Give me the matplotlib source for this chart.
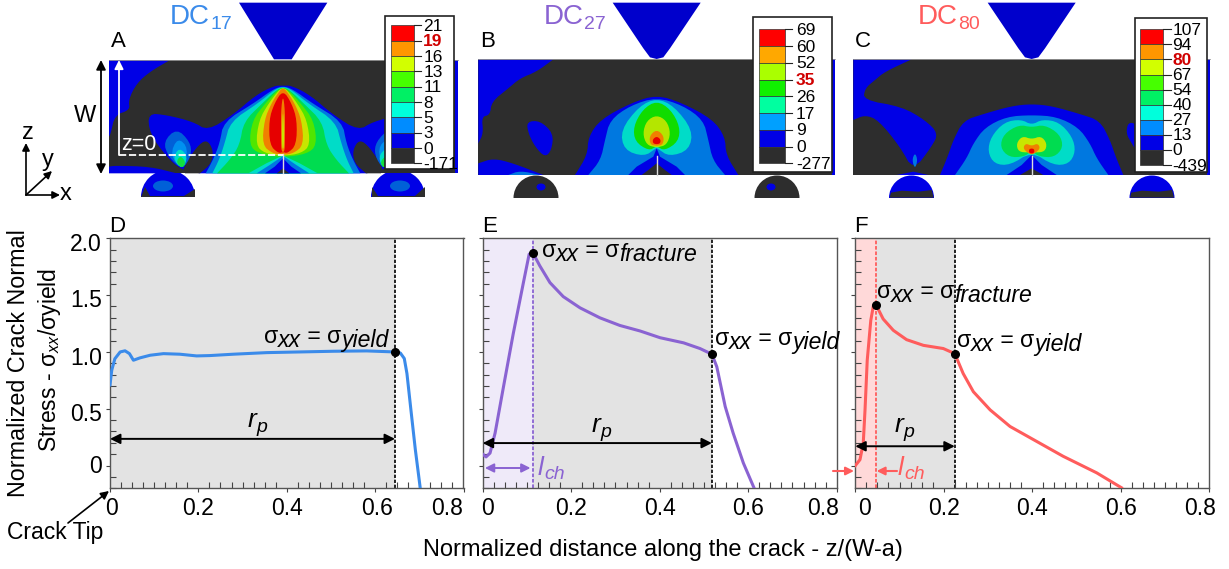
import numpy as np
import matplotlib
matplotlib.use('Agg')
import matplotlib.pyplot as plt
from matplotlib.patches import Polygon, Rectangle, Wedge, Ellipse
from matplotlib.ticker import MultipleLocator
from matplotlib.transforms import ScaledTranslation

plt.rcParams['font.family'] = ['Liberation Sans', 'DejaVu Sans']
plt.rcParams['mathtext.fontset'] = 'custom'
plt.rcParams['mathtext.rm'] = 'Liberation Sans'
plt.rcParams['mathtext.it'] = 'Liberation Sans:italic'

# curves
d_x = [0, .004, .011, .023, .034, .044, .053, .068, .091, .121, .158, .196, .226, .279, .355, .43, .506, .581, .644, .657, .666, .672, .681, .691, .702]
d_y = [.71, .84, .94, 1.0, 1.01, .985, .927, .948, .971, .985, .98, .965, .968, .98, .994, 1.0, 1.006, 1.009, 1.0, .991, .942, .81, .49, .14, -.195]
e_x = [.0015, .0075, .0166, .028, .047, .069, .092, .105, .113, .129, .152, .182, .22, .265, .31, .356, .401, .454, .491, .518, .529, .548, .566, .589, .613]
e_y = [.096, .076, .11, .286, .694, 1.16, 1.61, 1.86, 1.875, 1.758, 1.61, 1.487, 1.388, 1.3, 1.233, 1.184, 1.125, 1.08, 1.03, .98, .87, .52, .286, .023, -.195]
f_x = [0, .0106, .018, .022, .027, .035, .041, .047, .063, .086, .116, .154, .199, .225, .244, .267, .305, .35, .41, .47, .546, .602]
f_y = [0, .052, .198, .49, .927, 1.277, 1.408, 1.414, 1.29, 1.19, 1.108, 1.058, 1.03, .985, .81, .65, .49, .344, .213, .082, -.064, -.195]

rp_values = [.645, .518, .225]
lch_values = [None, .113, .046]
fracture_y = [None, 1.875, 1.414]
yield_y = [1.0, .98, .985]
rp_arrow_y = [.235, .198, .17]

legend_a = ['21', '19', '16', '13', '11', '8', '5', '3', '0', '-171']
legend_b = ['69', '60', '52', '35', '26', '17', '9', '0', '-277']
legend_c = ['107', '94', '80', '67', '54', '40', '27', '13', '0', '-439']
bold_a, bold_b, bold_c = '19', '35', '80'

DARK = '#2d2d2d'
BLUE = '#0000e6'
LBLUE = '#0078e0'
AQUA = '#00dcc8'
GREEN = '#00dc50'
LIME = '#50e600'
YELL = '#c8e600'
ORNG = '#f08000'
RED = '#e60000'
legend_cols = ['#ff0000', '#ff9600', '#d2ff00', '#46ff00', '#00f064', '#00ffdc', '#008cff', BLUE, DARK]
legend_cols_b = ['#ff0000', '#ffa800', '#aaff00', '#10f000', '#00ffa0', '#00a0ff', BLUE, DARK]

BLUE_L = '#3b8bea'
PURP = '#8a63d2'
PINK = '#ff5c5c'

# contour outlines, half profiles (dx from crack, y) in 3x picture pixels
a_lobes = [
    (BLUE, [(0, 257), (26, 257), (81, 285), (151, 345), (226, 392), (270, 365), (350, 345), (405, 340), (400, 400), (350, 470), (304, 510), (250, 520), (0, 520)]),
    (LBLUE, [(0, 258), (30, 268), (88, 310), (178, 365), (190, 430), (210, 480), (232, 520), (0, 520)]),
    (AQUA, [(0, 260), (24, 268), (75, 310), (158, 365), (175, 430), (192, 480), (212, 520), (0, 520)]),
    (GREEN, [(0, 262), (20, 270), (62, 310), (118, 365), (130, 435), (160, 480), (198, 520), (0, 520)]),
    (LIME, [(0, 263), (16, 270), (53, 310), (92, 360), (102, 435), (72, 462), (0, 472)]),
    (YELL, [(0, 264), (12, 270), (43, 310), (72, 360), (82, 435), (55, 460), (0, 468)]),
    (ORNG, [(0, 265), (9, 270), (35, 310), (56, 360), (62, 435), (32, 460), (0, 465)]),
    (RED, [(0, 270), (26, 310), (42, 360), (40, 435), (14, 460), (0, 456)]),
    (ORNG, [(0, 285), (6, 330), (6, 420), (5, 450), (0, 458)]),
    (YELL, [(0, 330), (3, 380), (3, 440), (0, 448)]),
]
a_wedges = [(AQUA, [(0, 466), (50, 490), (104, 520), (0, 520)]), (LBLUE, [(0, 468), (40, 495), (79, 520), (0, 520)]), (BLUE, [(0, 475), (25, 500), (54, 520), (0, 520)]), (DARK, [(0, 505), (19, 520), (0, 520)])]
a_hole = [(620, 418), (640, 450), (635, 490), (600, 520), (555, 520), (548, 505), (590, 440)]
a_drops = [('#0060d8', [(530, 385), (570, 425), (575, 465), (547, 510), (505, 470), (490, 425)]),
           ('#0090f0', [(533, 412), (566, 445), (547, 510), (510, 465)]),
           (AQUA, [(538, 442), (564, 470), (547, 510), (518, 475)]),
           ('#10e040', [(541, 466), (558, 487), (547, 506), (528, 487)])]
a_corner = [(327, 180), (510, 180), (450, 215), (410, 250), (385, 300), (390, 330), (345, 345), (332, 400), (327, 410)]
a_foot = [(327, 500), (345, 497), (450, 500), (530, 520), (327, 520)]

b_lobes = [
    (BLUE, [(0, 285), (75, 308), (168, 358), (205, 410), (208, 465), (245, 525), (0, 525)]),
    (LBLUE, [(0, 292), (78, 316), (140, 360), (155, 420), (168, 480), (205, 525), (0, 525)]),
    (AQUA, [(0, 295), (52, 318), (108, 390), (98, 450), (38, 470), (2, 445), (0, 445)]),
    ('#10dc00', [(0, 302), (42, 328), (70, 380), (65, 425), (24, 452), (2, 440), (0, 440)]),
    ('#b4e600', [(0, 345), (30, 362), (42, 400), (30, 435), (2, 442), (0, 442)]),
    (ORNG, [(0, 388), (22, 408), (19, 434), (2, 437), (0, 437)]),
    (RED, [(0, 409), (12, 418), (11, 430), (0, 433)]),
]
b_wedges = [(BLUE, [(0, 445), (10, 470), (60, 500), (85, 525), (0, 525)]), (DARK, [(0, 490), (25, 510), (45, 525), (0, 525)])]
b_corner = [(25, 178), (250, 178), (200, 215), (150, 235), (115, 265), (65, 305), (60, 345), (35, 350), (40, 400), (25, 430)]
b_blob = [(170, 365), (210, 362), (250, 400), (245, 450), (225, 472), (195, 440), (175, 400)]
b_foot = [(25, 490), (70, 475), (130, 490), (220, 525), (25, 525)]
b_foot2 = [(115, 525), (150, 512), (210, 525)]

c_lobes = [
    (BLUE, [(0, 312), (60, 318), (145, 342), (205, 362), (235, 420), (252, 470), (275, 525), (0, 525)]),
    (LBLUE, [(0, 345), (75, 350), (140, 382), (175, 430), (195, 475), (230, 525), (0, 525)]),
    (AQUA, [(0, 375), (32, 358), (82, 366), (122, 410), (132, 455), (112, 492), (65, 496), (0, 455)]),
    (GREEN, [(0, 382), (38, 374), (84, 402), (95, 442), (68, 472), (22, 470), (0, 452)]),
    (YELL, [(0, 418), (28, 408), (46, 430), (40, 455), (10, 458), (0, 452)]),
    (ORNG, [(0, 438), (18, 430), (26, 445), (10, 460), (0, 464)]),
    (RED, [(0, 445), (8, 448), (8, 458), (0, 461)]),
]
c_wedges = [(BLUE, [(0, 465), (30, 495), (75, 525), (0, 525)]), (DARK, [(0, 505), (35, 525), (0, 525)])]
c_corner = [(25, 178), (200, 178), (120, 215), (90, 240), (60, 265), (55, 300), (170, 320), (240, 360), (280, 400), (260, 440), (205, 512), (165, 440), (100, 360), (60, 345), (25, 360)]
c_foot = [(155, 525), (205, 515), (250, 525)]
c_side = [(850, 365), (880, 375), (885, 470), (860, 430), (843, 400)]
c_drop = [(210, 458), (218, 480), (210, 507), (201, 480)]

# label nudges in pixels
x_nudges = [[2, 0, 0, 2, -16], [5, 0, 0, 0, -14], [9, 0, 0, 0, -9]]
y_nudges = [-2, 3, 4, 3, 4]

fig = plt.figure(figsize=(12.29, 5.69), dpi=100)

over = fig.add_axes([0, 0, 1, 1], zorder=5)
over.set_xlim(0, 1229)
over.set_ylim(569, 0)
over.axis('off')
over.patch.set_alpha(0)
renderer = fig.canvas.get_renderer()


# smooth a closed outline, beam edges stay sharp
def chaikin(pts, left, n=2):
    p = []
    for a, b in pts:
        p.append((a, b))
        if b >= 515 or b <= 180 or a <= left + 1:
            p.append((a, b))
    p = np.array(p, dtype=float)
    for i in range(n):
        q = np.roll(p, -1, axis=0)
        p = np.column_stack([.75 * p + .25 * q, .25 * p + .75 * q]).reshape(-1, 2)
    return p


def poly(pts, off, col, z=2, smooth=True):
    if smooth:
        p = chaikin(pts, 327 if off == 0 else 25)
    else:
        p = np.array(pts, dtype=float)
    p = p / 3
    p[:, 0] += off
    over.add_patch(Polygon(p, closed=True, fc=col, ec='none', zorder=z))


def lobe(half, cx, off, col, z=3, smooth=True):
    right = [(cx + a, b) for a, b in half]
    left = [(cx - a, b) for a, b in half[::-1]][1:-1]
    poly(right + left, off, col, z, smooth)


def run_text(x, y, parts, color='k'):
    # parts: text, size, italic, drop
    for s, size, ital, dy in parts:
        t = over.text(x, y + dy, s, fontsize=size, style='italic' if ital else 'normal',
                      color=color, va='baseline', ha='left', zorder=9)
        x += t.get_window_extent(renderer).width


def legend_box(off, box, cells, labels, cols, bold, lab_x, size=12.5):
    x0, y0, x1, y1 = box
    over.add_patch(Rectangle((off + x0 / 3, y0 / 3), (x1 - x0) / 3, (y1 - y0) / 3, fc='white', ec='#222222', lw=1.2, zorder=6))
    cx0, cy0, cx1, cy1 = cells
    edges = np.linspace(cy0, cy1, len(cols) + 1)
    for i, c in enumerate(cols):
        over.add_patch(Rectangle((off + cx0 / 3, edges[i] / 3), (cx1 - cx0) / 3, (edges[i + 1] - edges[i]) / 3, fc=c, ec='#333333', lw=.5, zorder=7))
    for i, s in enumerate(labels):
        yy = edges[i] / 3
        over.plot([off + cx1 / 3, off + (cx1 + 22) / 3], [yy, yy], color='#222222', lw=.8, zorder=7)
        hot = s == bold
        over.text(off + lab_x / 3, yy + 1, s, fontsize=size, va='center', ha='left', zorder=8,
                  color='#d00000' if hot else 'k', fontweight='bold' if hot else 'normal')


def dome(x, y, r, col):
    over.add_patch(Wedge((x, y), r, 180, 360, fc=col, ec='none', zorder=0))


# FE maps on top
beam_spec = [(0, 327, 1373, 180, 520, 849), (470, 25, 1095, 178, 525, 560), (845, 25, 1095, 178, 525, 560)]
for off, x0, x1, y0, y1, cx in beam_spec:
    over.add_patch(Rectangle((off + x0 / 3, y0 / 3), (x1 - x0) / 3, (y1 - y0) / 3, fc=DARK, ec='none', zorder=1))
    if off == 0:
        ind = [(717, 8), (982, 8), (875, 178), (822, 178)]
    else:
        ind = [(428, 8), (692, 8), (600, 145), (580, 172), (560, 177), (540, 172), (520, 145)]
    poly(ind, off, '#0000cc', 2, False)
    over.plot([off + cx / 3] * 2, [(y1 - 58) / 3, y1 / 3], color='#dddddd', lw=1, zorder=6)
    over.plot([off + x0 / 3, off + x1 / 3], [y0 / 3] * 2, color='#999999', lw=.6, zorder=5)

for col, pts in a_lobes:
    lobe(pts, 849, 0, col, 3 if col != BLUE else 2)
for col, pts in a_wedges:
    lobe(pts, 849, 0, col, 4, False)
poly(a_corner, 0, BLUE)
poly(a_foot, 0, BLUE)
poly(a_hole, 0, DARK, 4)
poly([(2 * 849 - a, b) for a, b in a_hole], 0, DARK, 4)
for col, pts in a_drops:
    poly(pts, 0, col, 5)
    poly([(2 * 849 - a, b) for a, b in pts], 0, col, 5)
over.add_patch(Rectangle((1365 / 3, 60), 8 / 3, 113, fc=BLUE, ec='none', zorder=2))

for col, pts in b_lobes:
    lobe(pts, 560, 470, col, 3 if col != BLUE else 2)
for col, pts in b_wedges:
    lobe(pts, 560, 470, col, 4, False)
for pts, col in [(b_corner, BLUE), (b_blob, BLUE), (b_foot, BLUE), (b_foot2, LBLUE)]:
    poly(pts, 470, col)
over.add_patch(Rectangle((470 + 1087 / 3, 59), 8 / 3, 116, fc=BLUE, ec='none', zorder=2))

for col, pts in c_lobes:
    lobe(pts, 560, 845, col, 3 if col != BLUE else 2)
for col, pts in c_wedges:
    lobe(pts, 560, 845, col, 4, False)
for pts, col in [(c_corner, BLUE), (c_foot, BLUE), (c_side, BLUE), (c_drop, LBLUE)]:
    poly(pts, 845, col)
over.add_patch(Rectangle((845 + 1087 / 3, 59), 8 / 3, 116, fc=BLUE, ec='none', zorder=2))

# rollers under the beam
dome(168, 197, 27, BLUE)
dome(398, 197, 27, BLUE)
over.add_patch(Polygon([(141, 197), (195, 197), (195, 189), (184, 196), (150, 196), (145, 187)], fc=DARK, zorder=3))
over.add_patch(Polygon([(372, 187), (378, 196), (415, 196), (425, 187), (425, 197), (372, 197)], fc=DARK, zorder=3))
for x in [163, 400]:
    over.add_patch(Ellipse((x, 186), 20, 11, fc='#0060d8', ec='none', zorder=3))
dome(536, 198, 22.5, DARK)
dome(777, 198, 22.5, DARK)
over.add_patch(Ellipse((541, 187), 9, 7, fc=BLUE, ec='none', zorder=3))
over.add_patch(Ellipse((771, 187), 9, 7, fc=BLUE, ec='none', zorder=3))
dome(911.5, 198, 22.5, BLUE)
dome(1152, 198, 22.5, BLUE)
for cx in [200, 921]:
    poly([(cx - 62, 578), (cx - 30, 572), (cx + 20, 575), (cx + 60, 570), (cx + 66, 593), (cx - 66, 593)], 845, DARK, 3, False)

legend_box(0, (1155, 47, 1363, 508), (1173, 76, 1242, 490), legend_a, legend_cols, bold_a, 1270)
legend_box(470, (848, 52, 1085, 515), (868, 88, 944, 490), legend_b, legend_cols_b, bold_b, 978)
legend_box(845, (870, 53, 1087, 515), (886, 88, 955, 495), legend_c, legend_cols, bold_c, 982)

# titles and letters
run_text(170, 24, [('DC', 20, False, 0), ('17', 14, False, 5)], BLUE_L)
run_text(544, 24, [('DC', 20, False, 0), ('27', 14, False, 5)], PURP)
run_text(918, 24, [('DC', 20, False, 0), ('80', 14, False, 5)], PINK)
for s, x, y in [('A', 111, 47), ('B', 480, 47), ('C', 855, 47), ('D', 109, 232), ('E', 482, 232), ('F', 854, 232)]:
    over.text(x, y, s, fontsize=16, va='baseline', zorder=9)

# axes triad, W and z=0 marks
arr = dict(arrowstyle='-|>', color='k', lw=1.2, mutation_scale=11, shrinkA=0, shrinkB=0)
over.annotate('', xy=(26, 143), xytext=(26, 195), arrowprops=arr, zorder=9)
over.annotate('', xy=(60, 195), xytext=(26, 195), arrowprops=arr, zorder=9)
over.annotate('', xy=(52, 171), xytext=(26, 195), arrowprops=arr, zorder=9)
over.text(28, 133, 'z', fontsize=17, ha='center', va='center')
over.text(48, 160, 'y', fontsize=17, ha='center', va='center')
over.text(66, 194, 'x', fontsize=17, ha='center', va='center')
over.annotate('', xy=(101, 60), xytext=(101, 174), arrowprops=dict(arrowstyle='<|-|>', color='k', lw=1.3, mutation_scale=14, shrinkA=0, shrinkB=0))
over.text(85, 116, 'W', fontsize=17, ha='center', va='center')
over.annotate('', xy=(119, 60), xytext=(119, 155), arrowprops=dict(arrowstyle='-|>', color='white', lw=1.3, mutation_scale=13, shrinkA=0, shrinkB=0), zorder=9)
over.plot([119, 283], [155, 155], color='white', lw=1.3, ls=(0, (4, 1.5)), zorder=9)
over.text(121, 144, 'z=0', fontsize=15.5, color='white', ha='left', va='center', zorder=9)

# line plots
ax_boxes = [(110, 463.5), (482.7, 836.7), (855.3, 1209)]
top, bottom = 238.3, 488.3
curves = [(d_x, d_y, BLUE_L), (e_x, e_y, PURP), (f_x, f_y, PINK)]
shades = [None, '#efeaf9', '#ffd9d9']
for i, (l, r) in enumerate(ax_boxes):
    ax = fig.add_axes([l / 1229, 1 - bottom / 569, (r - l) / 1229, (bottom - top) / 569])
    ax.set_xlim(0, .8)
    ax.set_ylim(-.2, 2)
    rp, lch = rp_values[i], lch_values[i]
    ax.axvspan(lch if lch else 0, rp, color='#e3e3e3', lw=0, zorder=0)
    if lch:
        ax.axvspan(0, lch, color=shades[i], lw=0, zorder=0)
        ax.axvline(lch, color=curves[i][2], lw=1.3, ls=(0, (2, 1)), zorder=1)
        ax.plot([lch], [fracture_y[i]], 'o', color='k', ms=5.5, zorder=4)
    ax.axvline(rp, color='k', lw=1.2, ls=(0, (2, 1)), zorder=1)
    ax.plot(curves[i][0], curves[i][1], color=curves[i][2], lw=2.2, zorder=3)
    ax.plot([rp], [yield_y[i]], 'o', color='k', ms=5.5, zorder=4)
    ax.annotate('', xy=(rp, rp_arrow_y[i]), xytext=(0, rp_arrow_y[i]),
                arrowprops=dict(arrowstyle='<|-|>', color='k', lw=1.4, mutation_scale=15, shrinkA=0, shrinkB=0), zorder=5)
    ax.set_xticks([0, .2, .4, .6, .8])
    ax.set_yticks([0, .5, 1, 1.5, 2])
    ax.xaxis.set_minor_locator(MultipleLocator(.025))
    ax.yaxis.set_minor_locator(MultipleLocator(.1))
    ax.tick_params(which='major', direction='out', length=3, width=.8, color='#444444', labelsize=16.5, pad=3)
    ax.tick_params(which='minor', direction='in', length=4, width=.8, color='#444444')
    ax.xaxis.set_major_formatter(lambda v, p: '0' if abs(v) < 1e-9 else f'{v:.1f}')
    ax.yaxis.set_major_formatter(lambda v, p: '0' if abs(v) < 1e-9 else f'{v:.1f}')
    for lab, dx in zip(ax.get_xticklabels(), x_nudges[i]):
        lab.set_transform(lab.get_transform() + ScaledTranslation(dx / 100, 0, fig.dpi_scale_trans))
    for lab, dy in zip(ax.get_yticklabels(), y_nudges):
        lab.set_transform(lab.get_transform() + ScaledTranslation(0, -dy / 100, fig.dpi_scale_trans))
    if i > 0:
        ax.tick_params(labelleft=False)
    for s in ax.spines.values():
        s.set_color('#555555')
        s.set_linewidth(1)

# purple and red length marks
e_ax_x = lambda v: 482.7 + v / .8 * 354
f_ax_x = lambda v: 855.3 + v / .8 * 353.7
pa = dict(arrowstyle='<|-|>', color=PURP, lw=1.4, mutation_scale=13, shrinkA=0, shrinkB=0)
over.annotate('', xy=(e_ax_x(.005), 468), xytext=(e_ax_x(.108), 468), arrowprops=pa, zorder=9)
ra = dict(arrowstyle='-|>', color=PINK, lw=1.5, mutation_scale=12, shrinkA=0, shrinkB=0)
over.annotate('', xy=(854, 471), xytext=(833, 471), arrowprops=ra, zorder=9)
over.annotate('', xy=(f_ax_x(lch_values[2]) + 1, 471), xytext=(897, 471), arrowprops=ra, zorder=9)

# annotations
sig_y = [('σ', 16.6, False, 0), ('xx', 16.6, True, 4), (' = ', 16.6, False, 0), ('σ', 16.6, False, 0), ('yield', 16.6, True, 4)]
sig_f = [('σ', 16.6, False, 0), ('xx', 16.6, True, 4), (' = ', 16.6, False, 0), ('σ', 16.6, False, 0), ('fracture', 16.6, True, 4)]
run_text(264, 343, sig_y)
run_text(542, 257, sig_f)
run_text(715, 345, sig_y)
run_text(877, 298, sig_f)
run_text(957, 347, sig_y)
rp_parts = [('r', 19, True, 0), ('p', 14, True, 5)]
run_text(248, 427, rp_parts)
run_text(592, 432, rp_parts)
run_text(895, 432, rp_parts)
lch_parts = [('l', 19, True, 0), ('ch', 14, True, 4)]
run_text(538, 475, lch_parts, PURP)
run_text(898, 475, lch_parts, PINK)

over.text(7, 533, 'Crack Tip', fontsize=16.5, va='center', ha='left')
over.annotate('', xy=(109, 491), xytext=(68, 523), arrowprops=dict(arrowstyle='-|>', color='k', lw=1.2, mutation_scale=12, shrinkA=0, shrinkB=0))
over.text(663, 550, 'Normalized distance along the crack - z/(W-a)', fontsize=17, ha='center', va='center')
over.text(19, 363, 'Normalized Crack Normal', fontsize=16.8, rotation=90, ha='center', va='center')
over.text(50, 360, 'Stress - σ$_{xx}$/σyield', fontsize=16.5, rotation=90, ha='center', va='center')

fig.savefig('out.png', dpi=100)
